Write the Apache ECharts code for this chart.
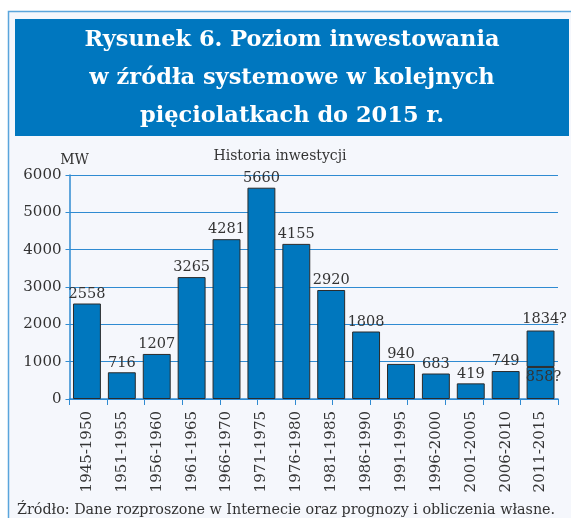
<!DOCTYPE html>
<html>
<head>
<meta charset="utf-8">
<style>
  html, body { margin: 0; padding: 0; background: #ffffff; }
  #main { width: 571px; height: 518px; }
</style>
<script src="https://cdn.jsdelivr.net/npm/echarts@6/dist/echarts.min.js"></script>
</head>
<body>
<div id="main"></div>
<script>
// dane z wykresu
var categories = ['1945-1950', '1951-1955', '1956-1960', '1961-1965', '1966-1970', '1971-1975', '1976-1980',
    '1981-1985', '1986-1990', '1991-1995', '1996-2000', '2001-2005', '2006-2010', '2011-2015'];
var values = [2558, 716, 1207, 3265, 4281, 5660, 4155, 2920, 1808, 940, 683, 419, 749];
// ostatnia pieciolatka - prognoza (dolna i gorna)
var estimateLow = 858;
var estimateHigh = 1834;
var yTicks = [0, 1000, 2000, 3000, 4000, 5000, 6000];

(function () {
    var serif = 'DejaVu Serif';
    var textColor = '#333333';
    var blue = '#0077be';
    var lineBlue = '#2f8bd2';
    var labelFont = { color: textColor, fontFamily: serif, fontSize: 14.5 };

    var myChart = echarts.init(document.querySelector('#main'));

    // dolna czesc slupkow + etykieta 858? w srodku ostatniego
    var lowData = values.concat([{
        value: estimateLow,
        label: { position: 'insideTop', distance: 3, offset: [3, 0], formatter: estimateLow + '?' }
    }]);
    var highData = values.map(function () { return '-'; }).concat([estimateHigh - estimateLow]);

    var option = {
        backgroundColor: '#ffffff',
        animation: false,
        graphic: [
            {   // ramka panelu
                type: 'rect', z: -10,
                shape: { x: 8.5, y: 11.5, width: 600, height: 540 },
                style: { fill: '#f5f7fc', stroke: '#5aa5dc', lineWidth: 1.5 }
            },
            {   // niebieski pasek tytulu
                type: 'rect', z: -9,
                shape: { x: 15, y: 19, width: 554, height: 117 },
                style: { fill: '#0077bf' }
            },
            {
                type: 'text', left: 17, top: 503,
                style: {
                    text: 'Źródło: Dane rozproszone w Internecie oraz prognozy i obliczenia własne.',
                    font: '14.3px "DejaVu Serif"', fill: textColor
                }
            }
        ],
        title: [
            {
                text: 'Rysunek 6. Poziom inwestowania\nw źródła systemowe w kolejnych\npięciolatkach do 2015 r.',
                left: 292, top: 21, textAlign: 'center', padding: 0,
                textStyle: { color: '#ffffff', fontFamily: serif, fontWeight: 'bold', fontSize: 22.5, lineHeight: 38 }
            },
            {
                text: 'Historia inwestycji',
                left: 280, top: 149, textAlign: 'center', padding: 0,
                textStyle: { color: textColor, fontFamily: serif, fontWeight: 'normal', fontSize: 14 }
            }
        ],
        grid: { left: 69.5, right: 13, top: 175, bottom: 119, containLabel: false },
        xAxis: [
            {
                type: 'category',
                data: categories,
                axisLine: { show: false },
                axisTick: { show: false },
                axisLabel: { rotate: 90, margin: 12, color: textColor, fontFamily: serif, fontSize: 15 }
            },
            {   // podzialka osi (nie wyrownana ze slupkami jak w oryginale)
                type: 'value', position: 'bottom',
                min: 0, max: 13, interval: 1,
                axisLine: { show: true, lineStyle: { color: lineBlue, width: 1.5 } },
                axisTick: { show: true, length: 6, lineStyle: { color: lineBlue } },
                axisLabel: { show: false },
                splitLine: { show: false }
            }
        ],
        yAxis: {
            type: 'value',
            min: yTicks[0], max: yTicks[yTicks.length - 1], interval: 1000,
            name: 'MW', nameLocation: 'end', nameGap: 8,
            nameTextStyle: { color: textColor, fontFamily: serif, fontSize: 14, padding: [0, 0, 0, 10] },
            axisLine: { show: true, lineStyle: { color: lineBlue, width: 1.5 } },
            axisTick: { show: true, length: 4, lineStyle: { color: lineBlue } },
            axisLabel: {
                margin: 8, color: textColor, fontFamily: serif, fontSize: 15,
                formatter: function (v) { return String(v); }
            },
            splitLine: { show: true, lineStyle: { color: lineBlue, width: 1.2 } }
        },
        series: [
            {
                type: 'bar', stack: 'inv',
                data: lowData,
                barCategoryGap: '20%',
                itemStyle: { color: blue, borderColor: '#2b2b2b', borderWidth: 1 },
                label: Object.assign({ show: true, position: 'top', distance: 2 }, labelFont)
            },
            {
                type: 'bar', stack: 'inv',
                data: highData,
                itemStyle: { color: blue, borderColor: '#2b2b2b', borderWidth: 1 },
                label: Object.assign({
                    show: true, position: 'top', distance: 4, offset: [4, 0],
                    formatter: function () { return estimateHigh + '?'; }
                }, labelFont)
            }
        ]
    };

    myChart.setOption(option);
    window.addEventListener('resize', function () {
        myChart.resize();
    });
})();
</script>
</body>
</html>
